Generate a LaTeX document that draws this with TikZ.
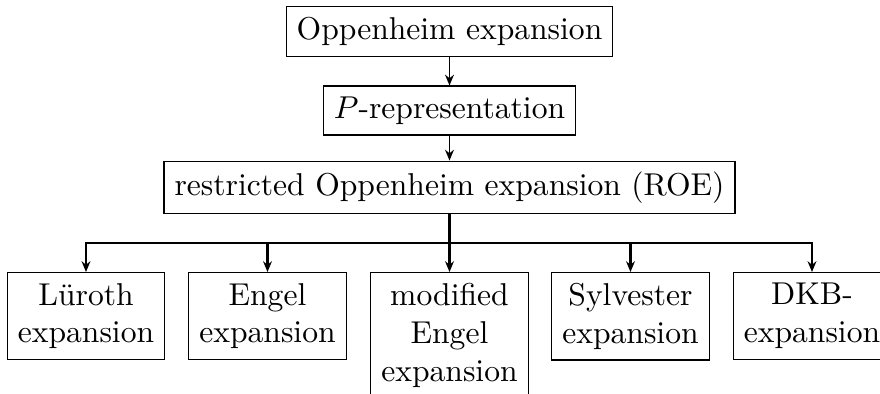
\documentclass[tikz,border=0pt]{standalone}
\usepackage{fontspec}
\usetikzlibrary{arrows.meta}
\begin{document}
\begin{tikzpicture}[x=0.3165pt,y=-0.3165pt,
  box/.style={draw,line width=0.4pt,inner sep=3.33pt,align=center,font=\fontsize{10}{12}\selectfont},
  link/.style={semithick,-{Stealth[length=3.4pt,width=2.8pt]}},
  tree/.style={thick},
  treearrow/.style={thick,-{Stealth[length=3.4pt,width=2.8pt]}}]
\useasboundingbox (0,0) rectangle (880,394);
\node[box] (A) at (449.5,31.5) {Oppenheim expansion};
\node[box] (B) at (449.5,110.5) {$P$-representation};
\node[box] (C) at (449.5,187.5) {restricted Oppenheim expansion (ROE)};
\node[box,anchor=north] (L) at (86,272) {Lüroth\\expansion};
\node[box,anchor=north] (E) at (267.5,272) {Engel\\expansion};
\node[box,anchor=north] (M) at (449.5,272) {modified\\Engel\\expansion};
\node[box,anchor=north] (S) at (630.5,272) {Sylvester\\expansion};
\node[box,anchor=north] (D) at (812,272) {DKB-\\expansion};
\coordinate (J) at (449.5,243);
\draw[link] (A) -- (B);
\draw[link] (B) -- (C);
\draw[tree] (C.south) -- (J);
\foreach \n in {L,E,M,S,D} \draw[treearrow] (J) -| (\n.north);
\end{tikzpicture}
\end{document}
